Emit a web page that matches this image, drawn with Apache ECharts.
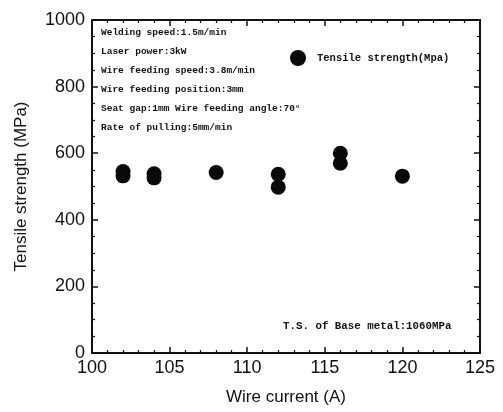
<!DOCTYPE html>
<html>
<head>
<meta charset="utf-8">
<script src="https://cdn.jsdelivr.net/npm/echarts@6/dist/echarts.min.js"></script>
<style>
  html, body { margin: 0; padding: 0; background: #fff; }
  #main { width: 503px; height: 412px; }
</style>
</head>
<body>
<div id="main"></div>
<script>
// wire current (A) and tensile strength (MPa)
var currents = [102, 102, 104, 104, 108, 112, 112, 116, 116, 120];
var strengths = [545, 532, 538, 526, 542, 537, 498, 600, 570, 531];
var conditions = [
    'Welding speed:1.5m/min',
    'Laser power:3kW',
    'Wire feeding speed:3.8m/min',
    'Wire feeding position:3mm',
    'Seat gap:1mm Wire feeding angle:70\u00b0',
    'Rate of pulling:5mm/min'
];
var baseNote = 'T.S. of Base metal:1060MPa';

var mono = '"Liberation Mono", "DejaVu Sans Mono", monospace';
var sans = '"Liberation Sans", Arial, sans-serif';

function scatterData() {
    var out = [];
    for (var i = 0; i < currents.length; i++) {
        out.push([currents[i], strengths[i]]);
    }
    return out;
}

function makeAxis(dim, pos, labels) {
    var isX = dim === 'x';
    return {
        type: 'value',
        position: pos,
        min: isX ? 100 : 0,
        max: isX ? 125 : 1000,
        interval: isX ? 5 : 200,
        name: labels ? (isX ? 'Wire current (A)' : 'Tensile strength (MPa)') : '',
        nameLocation: 'middle',
        nameGap: isX ? 36 : 62,
        nameTextStyle: { fontFamily: sans, fontSize: 17, color: '#111' },
        axisLine: { show: true, onZero: false, lineStyle: { color: '#111', width: 2 } },
        axisTick: { show: true, inside: true, length: 6, lineStyle: { color: '#111', width: 1.5 } },
        minorTick: { show: true, splitNumber: isX ? 5 : 4, length: 3, lineStyle: { color: '#111', width: 1.2 } },
        axisLabel: {
            show: labels,
            fontFamily: sans,
            fontSize: 18,
            color: '#111',
            margin: isX ? 6 : 7,
            formatter: function (v) { return String(v); }
        },
        splitLine: { show: false }
    };
}

var myChart = echarts.init(document.getElementById('main'));

var graphics = [];
for (var i = 0; i < conditions.length; i++) {
    graphics.push({
        type: 'text',
        left: 101,
        top: 28 + i * 19,
        style: {
            text: conditions[i],
            font: 'bold 9.5px ' + mono,
            fill: '#111'
        }
    });
}
graphics.push({
    type: 'text',
    left: 283,
    top: 321,
    style: {
        text: baseNote,
        font: 'bold 10.8px ' + mono,
        fill: '#111'
    }
});

var option = {
    backgroundColor: '#fff',
    animation: false,
    grid: { left: 92, right: 23, top: 20, bottom: 59 },
    legend: {
        left: 285,
        top: 45,
        icon: 'circle',
        itemWidth: 16,
        itemHeight: 16,
        data: ['Tensile strength(Mpa)'],
        textStyle: { fontFamily: mono, fontSize: 10.5, fontWeight: 'bold', color: '#111', padding: [0, 0, 0, 6] }
    },
    xAxis: [makeAxis('x', 'bottom', true), makeAxis('x', 'top', false)],
    yAxis: [makeAxis('y', 'left', true), makeAxis('y', 'right', false)],
    graphic: graphics,
    series: [{
        name: 'Tensile strength(Mpa)',
        type: 'scatter',
        symbol: 'circle',
        symbolSize: 15,
        itemStyle: { color: '#0a0a0a', opacity: 1 },
        data: scatterData()
    }]
};
myChart.setOption(option);
</script>
</body>
</html>
